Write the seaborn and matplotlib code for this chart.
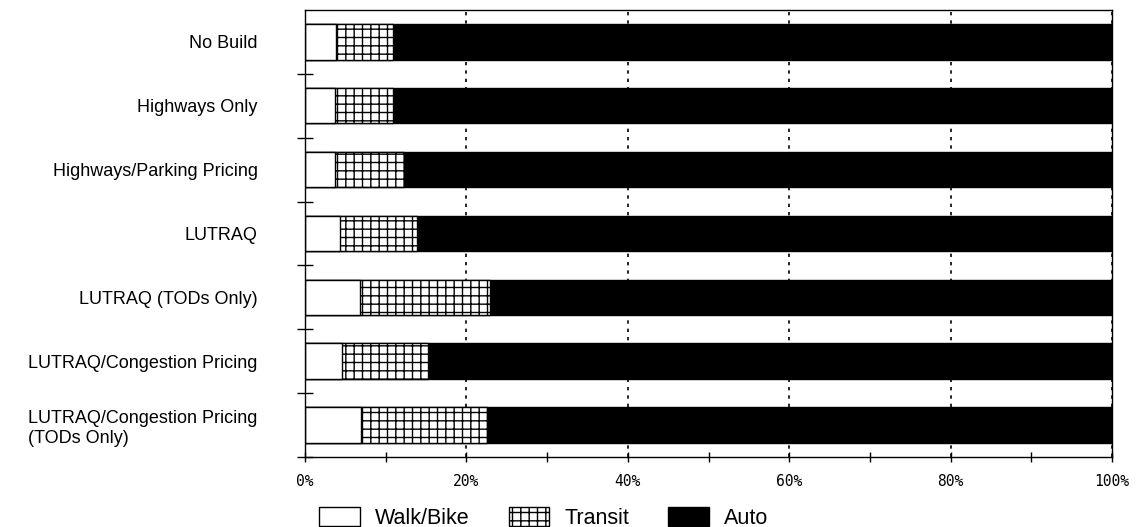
import numpy as np
import pandas as pd
import matplotlib
matplotlib.use('Agg')
import matplotlib.pyplot as plt
from matplotlib.patches import Patch
from matplotlib.ticker import MultipleLocator, FixedLocator
import seaborn as sns

## Mode share by scenario (percent of trips).
scenarios = ['No Build', 'Highways Only', 'Highways/Parking Pricing', 'LUTRAQ',
             'LUTRAQ (TODs Only)', 'LUTRAQ/Congestion Pricing',
             'LUTRAQ/Congestion Pricing\n(TODs Only)']
walk_bike = [3.8, 3.7, 3.7, 4.3, 6.8, 4.6, 7.0]
transit = [7.05, 7.15, 8.55, 9.6, 16.1, 10.7, 15.6]
auto = [89.15, 89.15, 87.75, 86.1, 77.1, 84.7, 77.4]
x_ticks = [0, 20, 40, 60, 80, 100]
x_tick_labels = ['0%', '20%', '40%', '60%', '80%', '100%']

df = pd.DataFrame({'scenario': scenarios, 'walk': walk_bike, 'transit': transit, 'auto': auto})
df['cum_transit'] = df['walk'] + df['transit']
df['cum_auto'] = df['cum_transit'] + df['auto']

sns.set_style('white')
plt.rcParams['font.family'] = ['Liberation Sans', 'DejaVu Sans']
plt.rcParams['hatch.linewidth'] = 1.0
plt.rcParams['text.color'] = 'black'
plt.rcParams['xtick.color'] = 'black'
plt.rcParams['ytick.color'] = 'black'
plt.rcParams['axes.labelcolor'] = 'black'

fig = plt.figure(figsize=(11.4, 5.27), dpi=100)
ax = fig.add_axes([0.2675, 0.133, 0.708, 0.848])

# Stacked bars drawn back to front
sns.barplot(data=df, x='cum_auto', y='scenario', orient='h', color='black',
            edgecolor='black', linewidth=1, width=0.555, saturation=1, ax=ax)
sns.barplot(data=df, x='cum_transit', y='scenario', orient='h', color='white',
            edgecolor='black', linewidth=1, width=0.555, saturation=1, hatch='++', ax=ax)
sns.barplot(data=df, x='walk', y='scenario', orient='h', color='white',
            edgecolor='black', linewidth=1, width=0.555, saturation=1, ax=ax)

ax.set_xlim(0, 100)
ax.set_ylim(6.5, -0.5)
ax.set_xlabel('')
ax.set_ylabel('')
ax.set_axisbelow(True)
ax.xaxis.grid(True, which='major', color='black', linestyle=(0, (2, 3)), linewidth=1.2)

ax.set_xticks(x_ticks)
ax.set_xticklabels(x_tick_labels, family='DejaVu Sans Mono', fontsize=10.5)
ax.xaxis.set_minor_locator(MultipleLocator(10))
ax.tick_params(axis='x', which='both', direction='inout', length=6.5, width=1,
               color='black', pad=9, bottom=True)

ax.yaxis.set_minor_locator(FixedLocator([0.5, 1.5, 2.5, 3.5, 4.5, 5.5, 6.5]))
ax.tick_params(axis='y', which='major', length=0, pad=34, labelsize=13)
ax.tick_params(axis='y', which='minor', direction='inout', length=12, width=1,
               color='black', left=True)
for lbl in ax.get_yticklabels():
    lbl.set_multialignment('left')

for s in ax.spines.values():
    s.set_visible(True)
    s.set_color('black')
    s.set_linewidth(1)

handles = [Patch(facecolor='white', edgecolor='black', label='Walk/Bike'),
           Patch(facecolor='white', edgecolor='black', hatch='++', label='Transit'),
           Patch(facecolor='black', edgecolor='black', label='Auto')]
fig.legend(handles=handles, loc='lower left', bbox_to_anchor=(0.263, -0.04), ncol=3,
           frameon=False, fontsize=15.5, handlelength=1.9, handleheight=1.0,
           handletextpad=0.7, columnspacing=1.8)

fig.savefig('out.png', dpi=100)
